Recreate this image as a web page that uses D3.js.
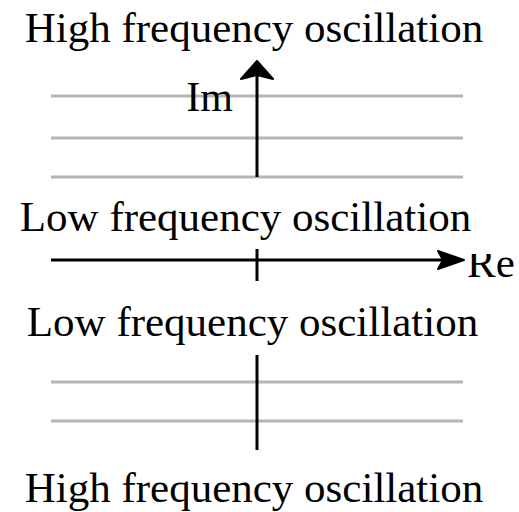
<!DOCTYPE html>
<html>
<head>
<meta charset="utf-8">
<script src="https://cdn.jsdelivr.net/npm/d3@7"></script>
<style>
  html, body { margin: 0; padding: 0; background: #fff; }
  svg { display: block; }
  text { font-family: "Liberation Serif", "Times New Roman", "DejaVu Serif", serif; }
</style>
</head>
<body>
<svg id="chart" width="519" height="512"></svg>
<script>
// ---- data ----
const upperBands = [0.83, 1.22, 1.64];      // Im values of upper gray lines
const lowerBands = [-1.22, -1.61];          // Im values of lower gray lines
const reExtent = [-1, 1];                   // Re span of the gray lines / Re axis
const upperImAxis = [0.83, 1.99];           // upper Im-axis segment (to arrow tip)
const lowerImAxis = [-0.95, -1.90];         // lower Im-axis segment
const regionLabels = ["High frequency oscillation", "Low frequency oscillation",
                      "Low frequency oscillation", "High frequency oscillation"];
const axisLabels = ["Im", "Re"];

// ---- scales ----
const x = d3.scaleLinear().domain([-1, 1]).range([51, 463]);
const y = d3.scaleLinear().domain([0, 1]).range([260, 160]);

const svg = d3.select("#chart");

// gray bands
svg.selectAll("line.band")
  .data(upperBands.concat(lowerBands))
  .join("line")
  .attr("class", "band")
  .attr("x1", x(reExtent[0])).attr("x2", x(reExtent[1]))
  .attr("y1", d => y(d)).attr("y2", d => y(d))
  .attr("stroke", "#b5b5b5").attr("stroke-width", 3);

// Im axis (upper with arrow)
svg.append("line")
  .attr("x1", x(0)).attr("x2", x(0))
  .attr("y1", y(upperImAxis[0])).attr("y2", y(upperImAxis[1]) + 14)
  .attr("stroke", "#000").attr("stroke-width", 3);
{
  const tx = x(0), ty = y(upperImAxis[1]);
  svg.append("path")
    .attr("d", `M${tx},${ty} L${tx + 16},${ty + 18} L${tx},${ty + 14} L${tx - 16},${ty + 18} Z`)
    .attr("fill", "#000").attr("stroke", "#000").attr("stroke-width", 2)
    .attr("stroke-linejoin", "round");
}
// lower Im axis segment
svg.append("line")
  .attr("x1", x(0)).attr("x2", x(0))
  .attr("y1", y(lowerImAxis[0])).attr("y2", y(lowerImAxis[1]))
  .attr("stroke", "#000").attr("stroke-width", 3);

// Re axis with arrow
svg.append("line")
  .attr("x1", x(reExtent[0])).attr("x2", x(reExtent[1]) - 14)
  .attr("y1", y(0)).attr("y2", y(0))
  .attr("stroke", "#000").attr("stroke-width", 3);
{
  const tx = x(reExtent[1]) + 1, ty = y(0);
  svg.append("path")
    .attr("d", `M${tx},${ty} L${tx - 26},${ty - 9} L${tx - 21},${ty} L${tx - 26},${ty + 9} Z`)
    .attr("fill", "#000").attr("stroke", "#000").attr("stroke-width", 2)
    .attr("stroke-linejoin", "round");
}
// origin tick
svg.append("line")
  .attr("x1", x(0)).attr("x2", x(0))
  .attr("y1", y(0) - 11).attr("y2", y(0) + 21)
  .attr("stroke", "#000").attr("stroke-width", 3);

// region labels
const labelPos = [[254, 42], [245.5, 231], [252.5, 336], [254, 502]];
svg.selectAll("text.region")
  .data(regionLabels)
  .join("text")
  .attr("class", "region")
  .attr("x", (d, i) => labelPos[i][0])
  .attr("y", (d, i) => labelPos[i][1])
  .attr("text-anchor", "middle")
  .attr("font-size", 43)
  .attr("fill", "#000")
  .text(d => d);

// axis labels
svg.append("text")
  .attr("x", 233).attr("y", 111)
  .attr("text-anchor", "end")
  .attr("font-size", 42)
  .attr("fill", "#000")
  .text(axisLabels[0]);

svg.append("clipPath").attr("id", "reclip")
  .append("rect").attr("x", 440).attr("y", 254).attr("width", 90).attr("height", 60);
svg.append("text")
  .attr("x", 467).attr("y", 277)
  .attr("font-size", 43)
  .attr("fill", "#000")
  .attr("clip-path", "url(#reclip)")
  .text(axisLabels[1]);
</script>
</body>
</html>
